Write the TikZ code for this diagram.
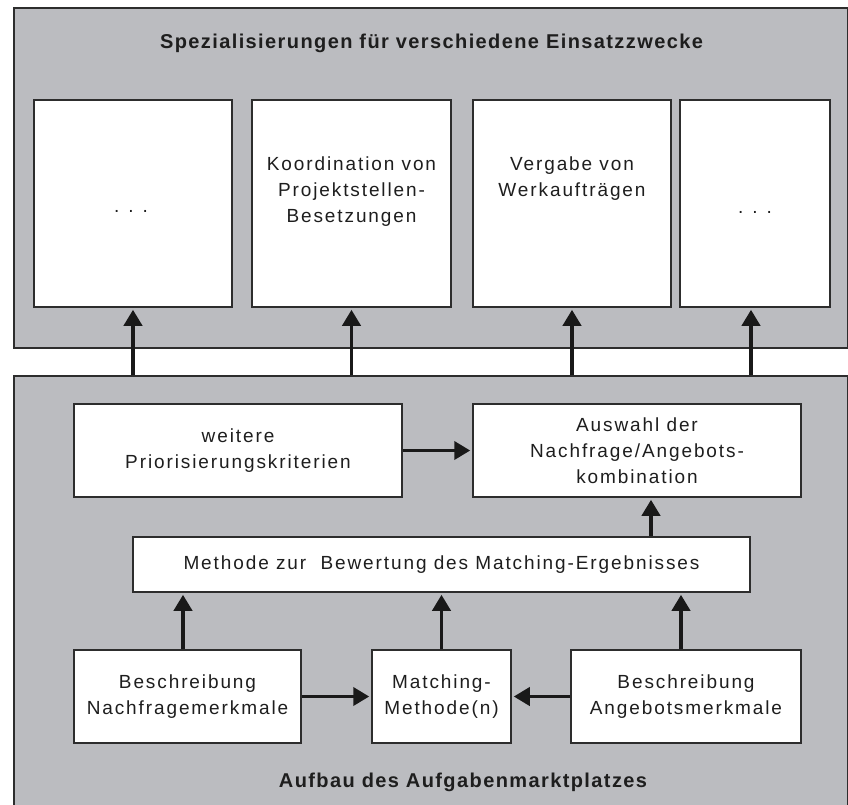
\documentclass[tikz,border=0pt]{standalone}
\usepackage{fontspec}
\setmainfont{Liberation Sans}[LetterSpace=10]
\newfontfamily\titlefont{Liberation Sans}[LetterSpace=7]
\usetikzlibrary{arrows.meta}
\definecolor{panelgray}{RGB}{187,188,192}
\definecolor{edge}{RGB}{45,45,45}
\definecolor{ink}{RGB}{30,30,30}
\begin{document}
\begin{tikzpicture}[x=1pt,y=-1pt,
  panel/.style={draw=edge, line width=1.5pt, fill=panelgray, rectangle, anchor=north west, inner sep=0pt},
  box/.style={draw=edge, line width=1.5pt, fill=white, rectangle, inner sep=0pt, align=center,
    font=\fontsize{19}{26}\selectfont, text=ink, minimum height=93pt},
  lbl/.style={inner sep=0pt, align=center, font=\fontsize{19}{26}\selectfont, text=ink},
  ttl/.style={inner sep=0pt, font=\titlefont\bfseries\fontsize{20}{24}\selectfont, text=ink},
  arr/.style={-{Triangle[length=16pt,width=18pt]}, line width=3.8pt, draw=black!90, shorten >=2pt}]
\useasboundingbox (0,0) rectangle (848,804);
\clip (0,0) rectangle (848,804);
\fill[white] (0,0) rectangle (848,804);

% panels
\node[panel, minimum width=834pt, minimum height=340pt] (top) at (13,7) {};
\node[panel, minimum width=834pt, minimum height=460pt] (bot) at (13,375) {};

% titles
\node[ttl] (ttop) at (431.5,43) {Spezialisierungen für verschiedene Einsatzzwecke};
\node[ttl] (tbot) at (463,782) {Aufbau des Aufgabenmarktplatzes};

% upper boxes
\node[box, minimum width=198pt, minimum height=207pt] (b1) at (133,203.5) {};
\node[box, minimum width=199pt, minimum height=207pt] (b2) at (351.5,203.5) {};
\node[box, minimum width=198pt, minimum height=207pt] (b3) at (572,203.5) {};
\node[box, minimum width=150pt, minimum height=207pt] (b4) at (755,203.5) {};

\node[lbl, anchor=base] (t1) at (131,212) {.\hspace{9pt}.\hspace{9pt}.};
\node[lbl, anchor=north] (t2) at ([yshift=-57.5pt]b2.north) {Koordination von\\Projektstellen-\\Besetzungen};
\node[lbl, anchor=north] (t3) at ([yshift=-57.5pt]b3.north) {Vergabe von\\Werkaufträgen};
\node[lbl, anchor=base] (t4) at (755,213) {.\hspace{9pt}.\hspace{9pt}.};

% lower boxes
\node[box, minimum width=328pt] (wp) at (238,450.5) {weitere\\Priorisierungskriterien};
\node[box, minimum width=328pt] (aw) at (637,450.5) {Auswahl der\\Nachfrage/Angebots-\\kombination};
\node[box, minimum width=617pt, minimum height=55pt] (mt) at (441.5,564.5) {Methode zur\ \ Bewertung des Matching-Ergebnisses};
\node[box, minimum width=227pt] (nf) at (187.5,696.5) {Beschreibung\\Nachfragemerkmale};
\node[box, minimum width=139pt] (mm) at (441.5,696.5) {Matching-\\Methode(n)};
\node[box, minimum width=230pt] (ag) at (686,696.5) {Beschreibung\\Angebotsmerkmale};

% arrows to the upper boxes
\draw[arr] (b1.south |- bot.north) -- (b1.south);
\draw[arr] (b2.south |- bot.north) -- (b2.south);
\draw[arr] (b3.south |- bot.north) -- (b3.south);
\draw[arr] ([xshift=-4pt]b4.south |- bot.north) -- ([xshift=-4pt]b4.south);

% arrows in the lower panel
\draw[arr] (wp.east) -- (aw.west);
\draw[arr] ([xshift=14pt]mt.north -| aw.south) -- ([xshift=14pt]aw.south);
\draw[arr] ([xshift=-4.5pt]nf.north) -- ([xshift=-4.5pt]nf.north |- mt.south);
\draw[arr] (mm.north) -- (mm.north |- mt.south);
\draw[arr] ([xshift=-5pt]ag.north) -- ([xshift=-5pt]ag.north |- mt.south);
\draw[arr] (nf.east) -- (mm.west);
\draw[arr] (ag.west) -- (mm.east);
\end{tikzpicture}
\end{document}
